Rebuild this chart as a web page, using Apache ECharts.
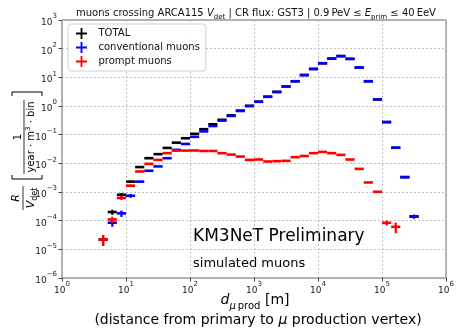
<!DOCTYPE html>
<html>
<head>
<meta charset="utf-8">
<script src="https://cdn.jsdelivr.net/npm/echarts@6/dist/echarts.min.js"></script>
<style>
  html, body { margin: 0; padding: 0; background: #fff; }
  #chart { width: 457px; height: 329px; }
</style>
</head>
<body>
<div id="chart"></div>
<script>
var FONT = 'DejaVu Sans';

// bin edges of d_mu prod [m], 7 log bins per decade (3.7 m ... 3.7e5 m)
var binEdges = [3.728, 5.179, 7.197, 10, 13.89, 19.31, 26.83, 37.28, 51.79, 71.97,
    100, 138.9, 193.1, 268.3, 372.8, 517.9, 719.7, 1000, 1389, 1931,
    2683, 3728, 5179, 7197, 10000, 13895, 19307, 26827, 37276, 51795,
    71969, 100000, 138950, 193070, 268270, 372760];

// R / V_det per bin
var totalVals = [2.2e-5, 2.0e-4, 8.0e-4, 2.3e-3, 7.4e-3, 0.0151, 0.0209, 0.0345, 0.0527, 0.075,
    0.107, 0.155, 0.23, 0.33, 0.47, 0.69, 1.01, 1.41, 2.1, 3.1,
    4.8, 7.3, 12, 19.6, 31, 45, 55, 44, 22, 7.3,
    1.7, 0.275, 0.035, 0.0033, 1.4e-4];
var convVals = [null, 8.5e-5, 1.8e-4, 7.4e-4, 2.3e-3, 5.5e-3, 7.8e-3, 0.0151, 0.0295, 0.0475,
    0.084, 0.13, 0.2, 0.31, 0.45, 0.67, 1.0, 1.4, 2.1, 3.1,
    4.8, 7.3, 12, 19.6, 31, 45, 55, 44, 22, 7.3,
    1.7, 0.275, 0.035, 0.0033, 1.4e-4];
var promptVals = [2.2e-5, 1.1e-4, 6.2e-4, 1.66e-3, 5.2e-3, 9.6e-3, 0.0132, 0.0226, 0.0278, 0.0278,
    0.028, 0.027, 0.027, 0.0226, 0.0202, 0.0172, 0.0132, 0.0136, 0.0116, 0.0119,
    0.0122, 0.0164, 0.018, 0.0226, 0.025, 0.0226, 0.0197, 0.0136, 0.0064, 0.00215,
    0.00102, 8.4e-5, 6.1e-5, null, null];

// relative errors (only visible where statistics are low)
var totalErr = [0.4, 0.2, 0.15, 0.08, 0, 0, 0, 0, 0, 0, 0, 0, 0, 0, 0, 0, 0, 0, 0, 0,
    0, 0, 0, 0, 0, 0, 0, 0, 0, 0, 0, 0, 0, 0, 0.15];
var convErr = [0, 0.28, 0.25, 0.15, 0.08, 0, 0, 0, 0, 0, 0, 0, 0, 0, 0, 0, 0, 0, 0, 0,
    0, 0, 0, 0, 0, 0, 0, 0, 0, 0, 0, 0, 0.05, 0.08, 0.15];
var promptErr = [0.4, 0.25, 0.15, 0.08, 0, 0, 0, 0, 0, 0, 0, 0, 0, 0, 0, 0, 0, 0, 0, 0,
    0, 0, 0, 0, 0, 0, 0, 0, 0, 0, 0.05, 0.2, 0.4, 0, 0];

var seriesNames = ['TOTAL', 'conventional muons', 'prompt muons'];
var seriesColors = ['#000000', '#0000ff', '#ff0000'];

function toData(vals, errs) {
    var out = [];
    for (var i = 0; i < vals.length; i++) {
        if (vals[i] == null) continue;
        out.push([binEdges[i], binEdges[i + 1], vals[i], errs[i]]);
    }
    return out;
}

function makeRender(color) {
    return function (params, api) {
        var v = api.value(2), e = api.value(3);
        var a = api.coord([api.value(0), v]);
        var b = api.coord([api.value(1), v]);
        var kids = [{
            type: 'line',
            shape: { x1: a[0], y1: a[1], x2: b[0], y2: b[1] },
            style: { stroke: color, lineWidth: 2.6 }
        }];
        if (e > 0) {
            var up = api.coord([api.value(0), v * (1 + e)]);
            var dn = api.coord([api.value(0), v * (1 - e)]);
            var cx = (a[0] + b[0]) / 2;
            kids.push({
                type: 'line',
                shape: { x1: cx, y1: up[1], x2: cx, y2: dn[1] },
                style: { stroke: color, lineWidth: 2.2 }
            });
        }
        return { type: 'group', children: kids };
    };
}

function powLabel(v) {
    var p = Math.round(Math.log10(v));
    var s = p < 0 ? '\u2212' + (-p) : '' + p;
    return '{b|10}{e|' + s + '}';
}
var powRich = {
    b: { fontFamily: FONT, fontSize: 9, color: '#222', lineHeight: 14, verticalAlign: 'bottom' },
    e: { fontFamily: FONT, fontSize: 7, color: '#222', lineHeight: 14, verticalAlign: 'top' }
};

var plusIcon = 'path://M5,0H7V5H12V7H7V12H5V7H0V5H5Z';

var myChart = echarts.init(document.getElementById('chart'));

var option = {
    animation: false,
    backgroundColor: '#fff',
    grid: {
        left: 62, right: 9, top: 20, bottom: 51,
        show: true, borderColor: '#666', borderWidth: 1
    },
    legend: {
        orient: 'vertical',
        left: 68, top: 24,
        padding: [4, 6, 4, 8],
        itemGap: 3,
        itemWidth: 12, itemHeight: 11,
        borderColor: '#d0d0d0', borderWidth: 1, borderRadius: 3,
        backgroundColor: 'rgba(255,255,255,0.85)',
        textStyle: { fontFamily: FONT, fontSize: 10, color: '#111', padding: [0, 0, 0, 6] },
        data: seriesNames.map(function (n) { return { name: n, icon: plusIcon }; })
    },
    xAxis: {
        type: 'log', logBase: 10, min: 1, max: 1e6, splitNumber: 6,
        axisLine: { show: false },
        axisTick: { show: true, length: 3.5, lineStyle: { color: '#444' } },
        axisLabel: { formatter: powLabel, rich: powRich, margin: 3 },
        splitLine: { show: true, lineStyle: { color: '#b0b0b0', type: [2, 2], width: 0.8 } },
        minorTick: { show: false }
    },
    yAxis: {
        type: 'log', logBase: 10, min: 1e-6, max: 1e3, splitNumber: 9,
        axisLine: { show: false },
        axisTick: { show: true, length: 3.5, lineStyle: { color: '#444' } },
        axisLabel: { formatter: powLabel, rich: powRich, margin: 5 },
        splitLine: { show: true, lineStyle: { color: '#b0b0b0', type: [2, 2], width: 0.8 } }
    },
    series: [
        { name: seriesNames[0], type: 'custom', itemStyle: { color: seriesColors[0] },
          renderItem: makeRender(seriesColors[0]), encode: { x: [0, 1], y: 2 },
          data: toData(totalVals, totalErr), z: 2 },
        { name: seriesNames[1], type: 'custom', itemStyle: { color: seriesColors[1] },
          renderItem: makeRender(seriesColors[1]), encode: { x: [0, 1], y: 2 },
          data: toData(convVals, convErr), z: 3 },
        { name: seriesNames[2], type: 'custom', itemStyle: { color: seriesColors[2] },
          renderItem: makeRender(seriesColors[2]), encode: { x: [0, 1], y: 2 },
          data: toData(promptVals, promptErr), z: 4 }
    ],
    graphic: [
        // title
        { type: 'text', x: 256, y: 13, style: {
            text: 'muons crossing ARCA115 {i|V}{s|det} | CR flux: GST3 | 0.9\u2009PeV \u2264 {i|E}{s|prim} \u2264 40\u2009EeV',
            fontFamily: FONT, fontSize: 10, fill: '#111', align: 'center', verticalAlign: 'middle',
            rich: {
                i: { fontFamily: FONT, fontSize: 10, fontStyle: 'italic', lineHeight: 15 },
                s: { fontFamily: FONT, fontSize: 7, lineHeight: 15, verticalAlign: 'bottom' }
            }
        } },
        // in-plot texts
        { type: 'text', x: 193, y: 237, style: { text: 'KM3NeT Preliminary', fontFamily: FONT,
            fontSize: 17, fill: '#000', align: 'left', verticalAlign: 'middle' } },
        { type: 'text', x: 193, y: 264, style: { text: 'simulated muons', fontFamily: FONT,
            fontSize: 13, fill: '#000', align: 'left', verticalAlign: 'middle' } },
        // x axis name
        { type: 'text', x: 255, y: 300, style: {
            text: '{i|d}{si|\u03bc}{s|\u2009prod}{n| [m]}',
            fontFamily: FONT, fontSize: 14, fill: '#000', align: 'center', verticalAlign: 'middle',
            rich: {
                i: { fontFamily: FONT, fontSize: 14, fontStyle: 'italic', lineHeight: 22 },
                n: { fontFamily: FONT, fontSize: 14, lineHeight: 22 },
                si: { fontFamily: FONT, fontSize: 10, fontStyle: 'italic', lineHeight: 22, verticalAlign: 'bottom' },
                s: { fontFamily: FONT, fontSize: 10, lineHeight: 22, verticalAlign: 'bottom' }
            }
        } },
        { type: 'text', x: 258, y: 320, style: {
            text: '(distance from primary to {i|\u03bc} production vertex)',
            fontFamily: FONT, fontSize: 14, fill: '#000', align: 'center', verticalAlign: 'middle',
            rich: { i: { fontFamily: FONT, fontSize: 14, fontStyle: 'italic' } }
        } },
        // y axis name: R / V_det [ 1 / (year . m^3 . bin) ]
        { type: 'text', x: 16, y: 198, rotation: Math.PI / 2, style: { text: 'R', fontFamily: FONT,
            fontSize: 11, fontStyle: 'italic', fill: '#000', align: 'center', verticalAlign: 'middle' } },
        { type: 'line', shape: { x1: 23, y1: 186, x2: 23, y2: 210 }, style: { stroke: '#000', lineWidth: 0.8 } },
        { type: 'text', x: 31, y: 198, rotation: Math.PI / 2, style: {
            text: '{i|V}{s|det}', fontFamily: FONT, fontSize: 11, fill: '#000', align: 'center', verticalAlign: 'middle',
            rich: {
                i: { fontFamily: FONT, fontSize: 11, fontStyle: 'italic', lineHeight: 16 },
                s: { fontFamily: FONT, fontSize: 8, lineHeight: 16, verticalAlign: 'bottom' }
            }
        } },
        { type: 'polyline', shape: { points: [[12, 175], [12, 179], [42, 179], [42, 175]] },
          style: { stroke: '#000', lineWidth: 1, fill: null } },
        { type: 'text', x: 18, y: 137, rotation: Math.PI / 2, style: { text: '1', fontFamily: FONT,
            fontSize: 10, fill: '#000', align: 'center', verticalAlign: 'middle' } },
        { type: 'line', shape: { x1: 24, y1: 100, x2: 24, y2: 174 }, style: { stroke: '#000', lineWidth: 0.8 } },
        { type: 'text', x: 31, y: 137, rotation: Math.PI / 2, style: {
            text: 'year \u00b7 m{e|3} \u00b7 bin', fontFamily: FONT, fontSize: 10, fill: '#000',
            align: 'center', verticalAlign: 'middle',
            rich: { e: { fontFamily: FONT, fontSize: 7, lineHeight: 13, verticalAlign: 'top' } }
        } },
        { type: 'polyline', shape: { points: [[12, 96], [12, 92], [42, 92], [42, 96]] },
          style: { stroke: '#000', lineWidth: 1, fill: null } }
    ]
};

if (option && typeof option === 'object') {
    myChart.setOption(option);
}
</script>
</body>
</html>
